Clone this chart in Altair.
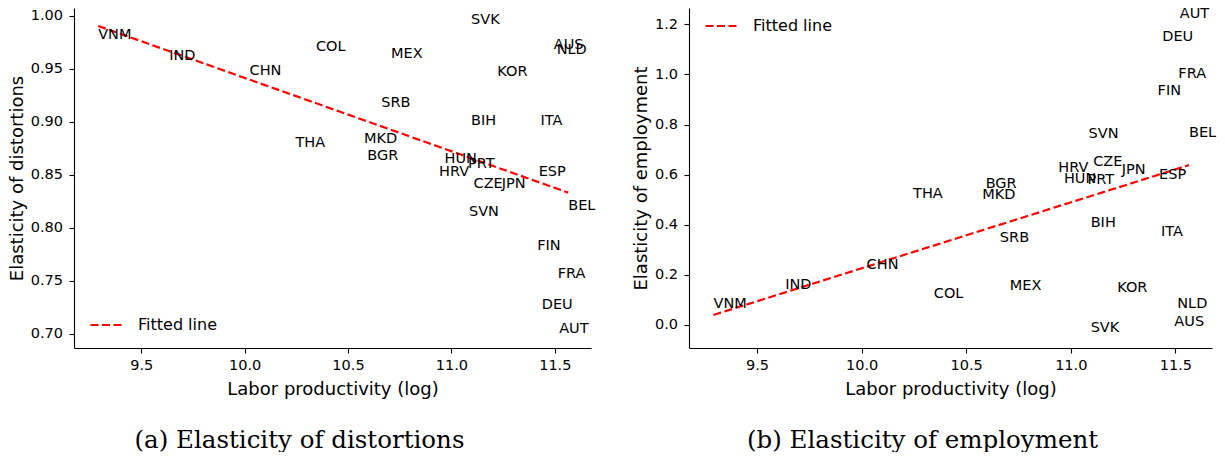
import altair as alt
import pandas as pd

COUNTRIES = [
    "VNM", "IND", "CHN", "COL", "MEX", "SVK", "AUS", "NLD", "KOR",
    "SRB", "BIH", "ITA", "THA", "MKD", "BGR", "HUN", "PRT", "HRV",
    "ESP", "CZE", "JPN", "BEL", "SVN", "FIN", "FRA", "DEU", "AUT",
]
LOG_PRODUCTIVITY = [
    9.292, 9.635, 10.024, 10.345, 10.708, 11.095, 11.495, 11.509, 11.222,
    10.661, 11.095, 11.431, 10.246, 10.577, 10.593, 10.967, 11.080, 10.940,
    11.422, 11.107, 11.243, 11.565, 11.085, 11.415, 11.514, 11.437, 11.521,
]
ELAST_DISTORTIONS = [
    0.978, 0.9585, 0.9446, 0.9673, 0.9607, 0.9924, 0.9685, 0.964, 0.9433,
    0.9144, 0.897, 0.897, 0.876, 0.8798, 0.864, 0.861, 0.8568, 0.849,
    0.849, 0.838, 0.838, 0.8168, 0.8115, 0.779, 0.753, 0.723, 0.7003,
]
ELAST_EMPLOYMENT = [
    0.068, 0.142, 0.222, 0.109, 0.140, -0.027, -0.004, 0.069, 0.132,
    0.333, 0.392, 0.355, 0.506, 0.502, 0.548, 0.565, 0.561, 0.611,
    0.584, 0.635, 0.601, 0.752, 0.748, 0.918, 0.987, 1.133, 1.227,
]

# fitted line end points
FIT_X = [9.292, 11.565]
FIT_DISTORTIONS = [0.9906, 0.8332]
FIT_EMPLOYMENT = [0.040, 0.638]

X_DOMAIN = [9.175, 11.675]
X_TICKS = [9.5, 10.0, 10.5, 11.0, 11.5]
PANEL_HEIGHT = 340
FONT = "DejaVu Sans"

points_df = pd.DataFrame({
    "country": COUNTRIES,
    "logp": LOG_PRODUCTIVITY,
    "distortions": ELAST_DISTORTIONS,
    "employment": ELAST_EMPLOYMENT,
})
fit_df = pd.DataFrame({
    "logp": FIT_X,
    "distortions": FIT_DISTORTIONS,
    "employment": FIT_EMPLOYMENT,
    "series": ["Fitted line", "Fitted line"],
})


def make_panel(field, y_title, y_domain, y_ticks, y_format, width, legend_y, caption, caption_dx):
    x = alt.X(
        "logp:Q",
        scale=alt.Scale(domain=X_DOMAIN, nice=False, zero=False),
        axis=alt.Axis(values=X_TICKS, format=".1f", title="Labor productivity (log)"),
    )
    y = alt.Y(
        f"{field}:Q",
        scale=alt.Scale(domain=y_domain, nice=False, zero=False),
        axis=alt.Axis(values=y_ticks, format=y_format, title=y_title),
    )

    fit = (
        alt.Chart(fit_df)
        .mark_line(strokeDash=[8, 3.5], strokeWidth=2.2)
        .encode(
            x=x,
            y=y,
            color=alt.Color(
                "series:N",
                scale=alt.Scale(domain=["Fitted line"], range=["#ff0000"]),
                legend=alt.Legend(
                    title=None,
                    orient="none",
                    legendX=15,
                    legendY=legend_y,
                    symbolType="stroke",
                    symbolSize=1089,
                    symbolStrokeWidth=2.2,
                    symbolDash=[8, 3.5],
                    labelFont=FONT,
                    labelFontSize=16,
                    labelColor="black",
                    labelOffset=13,
                    padding=0,
                ),
            ),
        )
    )

    labels = (
        alt.Chart(points_df)
        .mark_text(align="left", baseline="alphabetic", font=FONT, fontSize=14.5, color="black")
        .encode(x=x, y=y, text="country:N")
    )

    return alt.layer(fit, labels).properties(
        width=width,
        height=PANEL_HEIGHT,
        title=alt.TitleParams(
            caption,
            orient="bottom",
            anchor="middle",
            font="DejaVu Serif",
            fontSize=24.5,
            fontWeight="normal",
            color="black",
            dx=caption_dx,
            offset=30,
        ),
    )


left = make_panel(
    "distortions", "Elasticity of distortions", [0.6865, 1.00755],
    [0.70, 0.75, 0.80, 0.85, 0.90, 0.95, 1.00], ".2f", 517, 299,
    "(a) Elasticity of distortions", -33,
)
right = make_panel(
    "employment", "Elasticity of employment", [-0.0918, 1.265],
    [0.0, 0.2, 0.4, 0.6, 0.8, 1.0, 1.2], ".1f", 523, 0,
    "(b) Elasticity of employment", -28,
)

chart = (
    alt.hconcat(left, right, spacing=98, bounds="flush")
    .resolve_scale(color="independent")
    .resolve_legend(color="independent")
    .properties(padding={"left": 0, "top": -3, "right": 0, "bottom": 0})
    .configure_axis(
        grid=False,
        labelFont=FONT,
        labelFontSize=14.5,
        labelColor="black",
        titleFont=FONT,
        titleFontSize=18,
        titleFontWeight="normal",
        titleColor="black",
        domainColor="black",
        domainWidth=1.1,
        tickColor="black",
        tickWidth=1.1,
        tickSize=5,
    )
    .configure_axisX(labelPadding=5, titlePadding=9)
    .configure_axisY(labelPadding=6.5, titlePadding=4)
    .configure_view(stroke=None)
)

chart.save("out.html", embed_options={"renderer": "svg", "actions": False})
